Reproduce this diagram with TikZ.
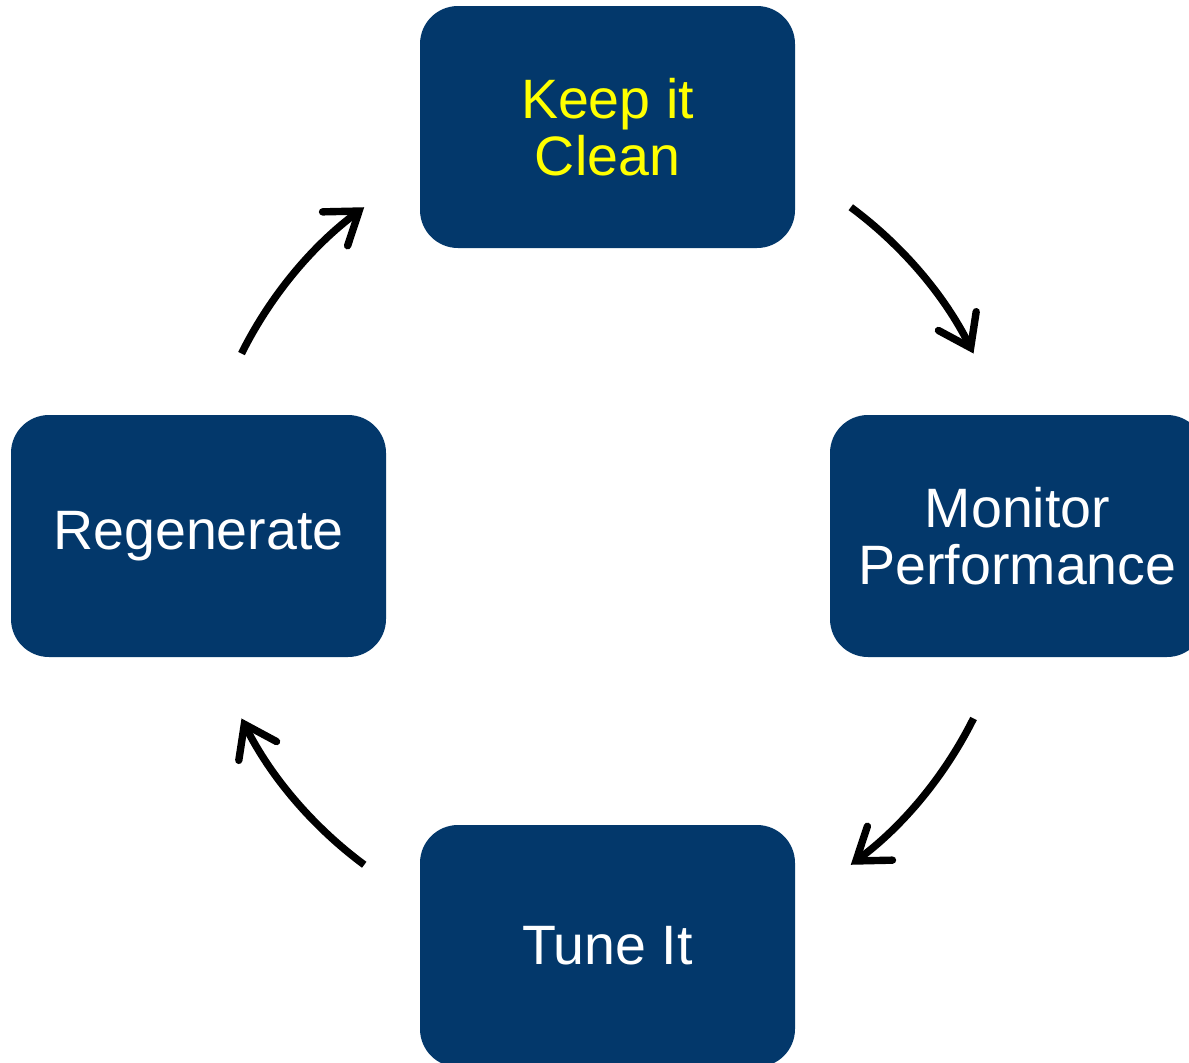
\documentclass[tikz,border=0pt]{standalone}
\usepackage{fontspec}
\setmainfont{Liberation Sans}
\usetikzlibrary{arrows.meta}
\definecolor{boxblue}{RGB}{3,56,107}
\definecolor{cleanyellow}{RGB}{255,255,0}
\tikzstyle{stage} = [rectangle, rounded corners=0.38cm, fill=boxblue, text=white, minimum height=2.42cm, minimum width=3.75cm, align=center, font=\fontsize{15.8}{16.3}\selectfont]
\tikzstyle{cyc} = [line width=2.1pt, -{Straight Barb[length=8.5pt, width=12pt, line cap=round]}]

\begin{document}
\begin{tikzpicture}

            \clip (0,0) rectangle (11.89,-10.62);

            \coordinate (hub) at (6.075,-5.36);

            %% stages

            \node (clean) [stage, text=cleanyellow] at (6.075,-1.27) {Keep it\\Clean};
            \node (monitor) [stage] at (10.175,-5.36) {Monitor\\Performance};
            \node (tune) [stage] at (6.075,-9.46) {Tune It};
            \node (regen) [stage] at (1.985,-5.36) {Regenerate};

            %% arrows

            \draw[cyc] ([shift={(53.5:4.09)}]hub) arc[start angle=53.5, end angle=26.5, radius=4.09];
            \draw[cyc] ([shift={(-26.5:4.09)}]hub) arc[start angle=-26.5, end angle=-53.5, radius=4.09];
            \draw[cyc] ([shift={(-126.5:4.09)}]hub) arc[start angle=-126.5, end angle=-153.5, radius=4.09];
            \draw[cyc] ([shift={(153.5:4.09)}]hub) arc[start angle=153.5, end angle=126.5, radius=4.09];

        \end{tikzpicture}
\end{document}
